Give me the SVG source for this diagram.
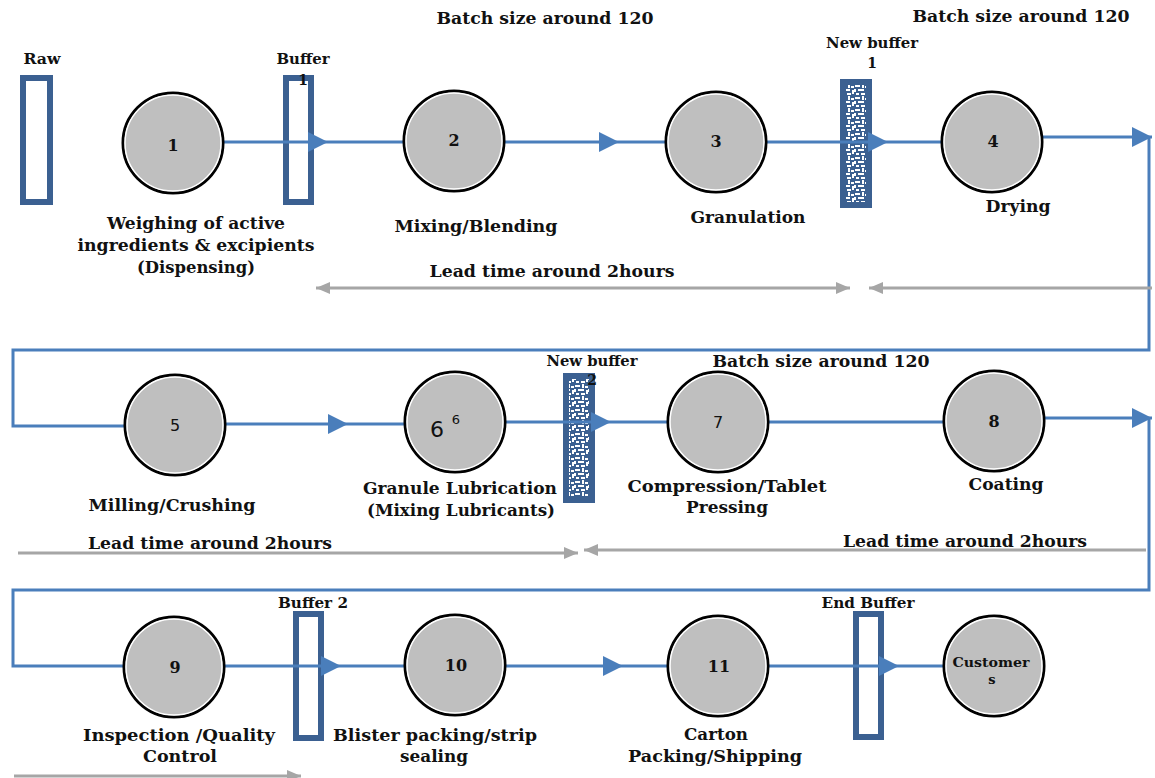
<svg xmlns="http://www.w3.org/2000/svg" width="1155" height="778" viewBox="0 0 1155 778">
<style>
text{font-family:"DejaVu Serif","Liberation Serif",serif;font-weight:bold;fill:#111;text-anchor:middle}
.lbl{font-size:16px}
.sm{font-size:14px}
.num{font-size:16px}
.sans{font-family:"DejaVu Sans","Liberation Sans",sans-serif;font-weight:normal}
.node{fill:#bfbfbf;stroke:#000;stroke-width:3}
.ring{fill:none;stroke:#fff;stroke-width:1.5}
.buf{fill:#fff;stroke:#3b6091;stroke-width:6}
.nbuf{fill:url(#hatch);stroke:#3b6091;stroke-width:6}
.flow{fill:none;stroke:#4a7ebb;stroke-width:3}
.lead{fill:none;stroke:#a6a6a6;stroke-width:3}
</style>
<defs>
<marker id="ah" viewBox="0 0 20 20" refX="20" refY="10" markerWidth="20" markerHeight="20" markerUnits="userSpaceOnUse" orient="auto"><path d="M0,0 L20,10 L0,20 Z" fill="#4a7ebb"/></marker>
<marker id="gh" viewBox="0 0 14 12" refX="14" refY="6" markerWidth="14" markerHeight="12" markerUnits="userSpaceOnUse" orient="auto-start-reverse"><path d="M0,0 L14,6 L0,12 Z" fill="#a6a6a6"/></marker>
<pattern id="hatch" width="14" height="12" patternUnits="userSpaceOnUse">
<rect width="14" height="12" fill="#3b6091"/>
<rect x="1" y="1" width="5" height="2" fill="#fff"/>
<rect x="8" y="0" width="2" height="4" fill="#fff"/>
<rect x="11" y="2" width="3" height="2" fill="#fff"/>
<rect x="0" y="5" width="2" height="3" fill="#fff"/>
<rect x="4" y="5" width="6" height="2" fill="#fff"/>
<rect x="12" y="6" width="2" height="4" fill="#fff"/>
<rect x="2" y="9" width="3" height="2" fill="#fff"/>
<rect x="7" y="9" width="4" height="2" fill="#fff"/>
</pattern>
</defs>

<g id="texts-top">
<text class="lbl" x="545" y="24" textLength="217" lengthAdjust="spacingAndGlyphs">Batch size around 120</text>
<text class="lbl" x="1021" y="22" textLength="217" lengthAdjust="spacingAndGlyphs">Batch size around 120</text>
<text class="lbl" x="821" y="367" textLength="217" lengthAdjust="spacingAndGlyphs">Batch size around 120</text>
<text class="lbl" x="552" y="277" textLength="245" lengthAdjust="spacingAndGlyphs">Lead time around 2hours</text>
<text class="lbl" x="210" y="549" textLength="244" lengthAdjust="spacingAndGlyphs">Lead time around 2hours</text>
<text class="lbl" x="965" y="547" textLength="244" lengthAdjust="spacingAndGlyphs">Lead time around 2hours</text>
</g>

<g id="raw"><rect class="buf" x="23" y="78" width="27" height="124"/><text class="sm" x="42" y="64" textLength="37" lengthAdjust="spacingAndGlyphs">Raw</text></g>
<g id="buffer1"><rect class="buf" x="286" y="78" width="25" height="124"/><text class="sm" x="303" y="64" textLength="53" lengthAdjust="spacingAndGlyphs">Buffer</text><text class="sm" x="303" y="85">1</text></g>
<g id="newbuffer1"><rect class="nbuf" x="843" y="82" width="26" height="123"/><text class="sm" x="872" y="48" textLength="92" lengthAdjust="spacingAndGlyphs">New buffer</text><text class="sm" x="872" y="68">1</text></g>
<g id="newbuffer2"><rect class="nbuf" x="566" y="376" width="26" height="124"/><text class="sm" x="592" y="366" textLength="91" lengthAdjust="spacingAndGlyphs">New buffer</text><text class="sm" x="592" y="385">2</text></g>
<g id="buffer2"><rect class="buf" x="296" y="614" width="25" height="124"/><text class="sm" x="313" y="608" textLength="70" lengthAdjust="spacingAndGlyphs">Buffer 2</text></g>
<g id="endbuffer"><rect class="buf" x="856" y="614" width="25" height="123"/><text class="sm" x="868" y="608" textLength="93" lengthAdjust="spacingAndGlyphs">End Buffer</text></g>

<g id="connectors">
<path class="flow" d="M224,142 H328" marker-end="url(#ah)"/><path class="flow" d="M328,142 H403"/>
<path class="flow" d="M505,142 H619" marker-end="url(#ah)"/><path class="flow" d="M619,142 H665"/>
<path class="flow" d="M767,142 H888" marker-end="url(#ah)"/><path class="flow" d="M888,142 H941"/>
<path class="flow" d="M1043,137 H1152" marker-end="url(#ah)"/>
<path class="flow" d="M1149,137 V350 H13 V426 H124"/>
<path class="flow" d="M226,424 H348" marker-end="url(#ah)"/><path class="flow" d="M348,424 H404"/>
<path class="flow" d="M506,422 H611" marker-end="url(#ah)"/><path class="flow" d="M611,422 H667"/>
<path class="flow" d="M769,422 H943"/>
<path class="flow" d="M1045,418 H1152" marker-end="url(#ah)"/>
<path class="flow" d="M1149,418 V590 H13 V666 H123"/>
<path class="flow" d="M225,666 H341" marker-end="url(#ah)"/><path class="flow" d="M341,666 H404"/>
<path class="flow" d="M506,666 H623" marker-end="url(#ah)"/><path class="flow" d="M623,666 H667"/>
<path class="flow" d="M769,666 H899" marker-end="url(#ah)"/><path class="flow" d="M899,666 H943"/>
<path class="lead" d="M316,288 H850" marker-start="url(#gh)" marker-end="url(#gh)"/>
<path class="lead" d="M1152,288 H869" marker-end="url(#gh)"/>
<path class="lead" d="M18,553 H578" marker-end="url(#gh)"/>
<path class="lead" d="M1146,550 H584" marker-end="url(#gh)"/>
<path class="lead" d="M14,776 H301" marker-end="url(#gh)"/>
</g>

<g id="n1"><circle class="node" cx="173" cy="143" r="50"/><circle class="ring" cx="173" cy="143" r="48"/><text class="num" x="173" y="151">1</text>
<text class="lbl" x="196" y="229" textLength="178" lengthAdjust="spacingAndGlyphs">Weighing of active</text><text class="lbl" x="196" y="251" textLength="237" lengthAdjust="spacingAndGlyphs">ingredients &amp; excipients</text><text class="lbl" x="196" y="273" textLength="118" lengthAdjust="spacingAndGlyphs">(Dispensing)</text></g>
<g id="n2"><circle class="node" cx="454" cy="141" r="50"/><circle class="ring" cx="454" cy="141" r="48"/><text class="num" x="454" y="146">2</text><text class="lbl" x="476" y="232" textLength="163" lengthAdjust="spacingAndGlyphs">Mixing/Blending</text></g>
<g id="n3"><circle class="node" cx="716" cy="142" r="50"/><circle class="ring" cx="716" cy="142" r="48"/><text class="num" x="716" y="147">3</text><text class="lbl" x="748" y="223" textLength="115" lengthAdjust="spacingAndGlyphs">Granulation</text></g>
<g id="n4"><circle class="node" cx="992" cy="142" r="50"/><circle class="ring" cx="992" cy="142" r="48"/><text class="num" x="993" y="147">4</text><text class="lbl" x="1018" y="212" textLength="65" lengthAdjust="spacingAndGlyphs">Drying</text></g>

<g id="n5"><circle class="node" cx="175" cy="425" r="50"/><circle class="ring" cx="175" cy="425" r="48"/><text class="num sans" x="175" y="431">5</text><text class="lbl" x="172" y="511" textLength="167" lengthAdjust="spacingAndGlyphs">Milling/Crushing</text></g>
<g id="n6"><circle class="node" cx="455" cy="422" r="50"/><circle class="ring" cx="455" cy="422" r="48"/><text class="sans" x="437" y="437" style="font-size:22px">6</text><text class="sans" x="456" y="424" style="font-size:13px">6</text>
<text class="lbl" x="460" y="494" textLength="194" lengthAdjust="spacingAndGlyphs">Granule Lubrication</text><text class="lbl" x="461" y="516" textLength="188" lengthAdjust="spacingAndGlyphs">(Mixing Lubricants)</text></g>
<g id="n7"><circle class="node" cx="718" cy="422" r="50"/><circle class="ring" cx="718" cy="422" r="48"/><text class="num sans" x="718" y="428">7</text><text class="lbl" x="727" y="492" textLength="199" lengthAdjust="spacingAndGlyphs">Compression/Tablet</text><text class="lbl" x="727" y="513" textLength="82" lengthAdjust="spacingAndGlyphs">Pressing</text></g>
<g id="n8"><circle class="node" cx="994" cy="421" r="50"/><circle class="ring" cx="994" cy="421" r="48"/><text class="num" x="994" y="427">8</text><text class="lbl" x="1006" y="490" textLength="75" lengthAdjust="spacingAndGlyphs">Coating</text></g>

<g id="n9"><circle class="node" cx="174" cy="667" r="50"/><circle class="ring" cx="174" cy="667" r="48"/><text class="num" x="175" y="673">9</text><text class="lbl" x="179" y="741" textLength="192" lengthAdjust="spacingAndGlyphs">Inspection /Quality</text><text class="lbl" x="180" y="762" textLength="74" lengthAdjust="spacingAndGlyphs">Control</text></g>
<g id="n10"><circle class="node" cx="455" cy="665" r="50"/><circle class="ring" cx="455" cy="665" r="48"/><text class="num" x="456" y="671">10</text><text class="lbl" x="435" y="741" textLength="204" lengthAdjust="spacingAndGlyphs">Blister packing/strip</text><text class="lbl" x="434" y="762" textLength="68" lengthAdjust="spacingAndGlyphs">sealing</text></g>
<g id="n11"><circle class="node" cx="718" cy="666" r="50"/><circle class="ring" cx="718" cy="666" r="48"/><text class="num" x="719" y="672">11</text><text class="lbl" x="716" y="740" textLength="64" lengthAdjust="spacingAndGlyphs">Carton</text><text class="lbl" x="715" y="762" textLength="174" lengthAdjust="spacingAndGlyphs">Packing/Shipping</text></g>
<g id="customers"><circle class="node" cx="994" cy="666" r="50"/><circle class="ring" cx="994" cy="666" r="48"/><text style="font-size:13px" x="991" y="667" textLength="77" lengthAdjust="spacingAndGlyphs">Customer</text><text style="font-size:13px" x="992" y="684">s</text></g>
</svg>
